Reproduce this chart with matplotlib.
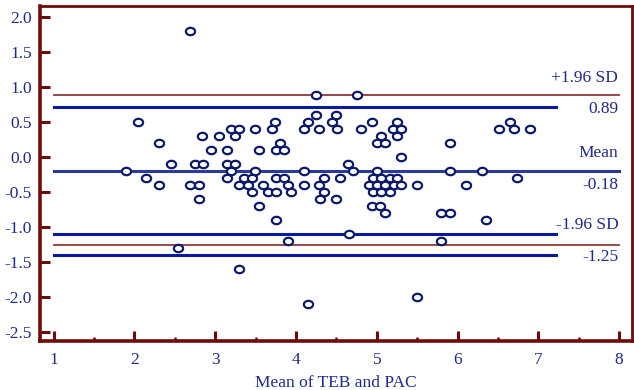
import matplotlib.pyplot as plt
import numpy as np

# Bland-Altman points: mean of TEB and PAC vs difference
mean_vals = [1.90, 2.04, 2.14, 2.30, 2.30, 2.45, 2.54, 2.69, 2.69, 2.80,
             2.80, 2.75, 2.85, 2.84, 2.95, 3.05, 3.15, 3.19, 3.24, 3.30,
             3.14, 3.24, 3.14, 3.19, 3.30, 3.40, 3.35, 3.45, 3.45, 3.49,
             3.49, 3.54, 3.54, 3.59, 3.65, 3.75, 3.70, 3.74, 3.80, 3.75,
             3.85, 3.75, 3.85, 3.90, 3.94, 3.75, 3.90, 3.30, 4.10, 4.15,
             4.10, 4.10, 4.15, 4.25, 4.25, 4.28, 4.29, 4.35, 4.35, 4.30,
             4.44, 4.49, 4.51, 4.55, 4.49, 4.64, 4.70, 4.65, 4.75, 4.80,
             4.94, 5.05, 5.00, 5.10, 5.20, 5.25, 5.30, 5.25, 5.30, 5.00,
             4.95, 5.05, 5.16, 5.25, 4.90, 5.00, 5.10, 5.21, 5.30, 4.95,
             5.05, 5.16, 4.94, 5.04, 5.10, 5.50, 5.50, 5.80, 5.90, 5.80,
             5.90, 5.90, 6.11, 6.30, 6.35, 6.51, 6.65, 6.70, 6.90, 6.73]
diff_vals = [-0.2, 0.5, -0.3, 0.2, -0.4, -0.1, -1.3, 1.8, -0.4, -0.4,
             -0.6, -0.1, -0.1, 0.3, 0.1, 0.3, 0.1, 0.4, 0.3, 0.4,
             -0.1, -0.1, -0.3, -0.2, -0.4, -0.4, -0.3, -0.3, -0.5, 0.4,
             -0.2, 0.1, -0.7, -0.4, -0.5, -0.5, 0.4, 0.5, 0.2, 0.1,
             0.1, -0.3, -0.3, -0.4, -0.5, -0.9, -1.2, -1.6, 0.4, 0.5,
             -0.2, -0.4, -2.1, 0.89, 0.6, 0.4, -0.4, -0.3, -0.5, -0.6,
             0.5, 0.6, 0.4, -0.3, -0.6, -0.1, -0.2, -1.1, 0.89, 0.4,
             0.5, 0.3, 0.2, 0.2, 0.4, 0.5, 0.4, 0.3, 0.0, -0.2,
             -0.3, -0.3, -0.3, -0.3, -0.4, -0.4, -0.4, -0.4, -0.4, -0.5,
             -0.5, -0.5, -0.7, -0.7, -0.8, -0.4, -2.0, -0.8, -0.8, -1.2,
             0.2, -0.2, -0.4, -0.2, -0.9, 0.4, 0.5, 0.4, 0.4, -0.3]

upper_loa = 0.88
mean_diff = -0.20
lower_loa = -1.26
upper_ci = 0.72
lower_ci_hi = -1.10
lower_ci_lo = -1.40

label_texts = ['+1.96 SD', '0.89', 'Mean', '-0.18', '-1.96 SD', '-1.25']
label_y = [1.13, 0.69, 0.06, -0.40, -0.97, -1.43]

navy = '#1f2a8a'
maroon = '#6e0b0b'

plt.rcParams['font.family'] = ['Liberation Serif', 'DejaVu Serif']

fig = plt.figure(figsize=(6.34, 3.90), dpi=100)
ax = fig.add_axes([0.063, 0.126, 0.934, 0.859])

# reference lines
ax.plot([1, 8], [upper_loa, upper_loa], color='#8b3a3a', lw=1.3)
ax.plot([1, 8], [lower_loa, lower_loa], color='#8b3a3a', lw=1.3)
ax.plot([1, 8], [mean_diff, mean_diff], color='#2b3a96', lw=2.2)
ax.plot([1, 7.22], [upper_ci, upper_ci], color='#0a1aa0', lw=2.2)
ax.plot([1, 7.22], [lower_ci_hi, lower_ci_hi], color='#0a1aa0', lw=2.2)
ax.plot([1, 7.22], [lower_ci_lo, lower_ci_lo], color='#0a1aa0', lw=2.2)

# slightly wide open circles
t = np.linspace(0, 2 * np.pi, 40)
ellipse = list(zip(1.25 * np.cos(t), np.sin(t)))
ax.scatter(mean_vals, diff_vals, marker=ellipse, s=44, facecolor='white',
           edgecolor='#0d1a6b', linewidths=1.6, zorder=3)

for txt, yy in zip(label_texts, label_y):
    ax.text(7.99, yy, txt, ha='right', va='center', color=navy, fontsize=12.5)

ax.set_xlim(0.83, 8.16)
ax.set_ylim(-2.63, 2.16)
ax.set_xticks(range(1, 9))
ax.set_xticks(np.arange(1.5, 8, 1), minor=True)
ax.set_yticks(np.arange(-2.5, 2.01, 0.5))
ax.set_yticklabels(['%.1f' % v for v in np.arange(-2.5, 2.01, 0.5)])

for side in ['left', 'bottom']:
    ax.spines[side].set_linewidth(2.6)
    ax.spines[side].set_color(maroon)
for side in ['top', 'right']:
    ax.spines[side].set_linewidth(2.0)
    ax.spines[side].set_color(maroon)

ax.tick_params(which='major', direction='in', length=7, width=2.2,
               color=maroon, labelcolor=navy, labelsize=12.5, pad=6)
ax.tick_params(axis='x', which='major', pad=8)
ax.tick_params(which='minor', direction='in', length=3, width=1.8, color=maroon)
ax.tick_params(axis='y', which='minor', left=False)

ax.set_xlabel('Mean of TEB and PAC', color=navy, fontsize=12.5, labelpad=5)

plt.savefig('out.png', dpi=100)
